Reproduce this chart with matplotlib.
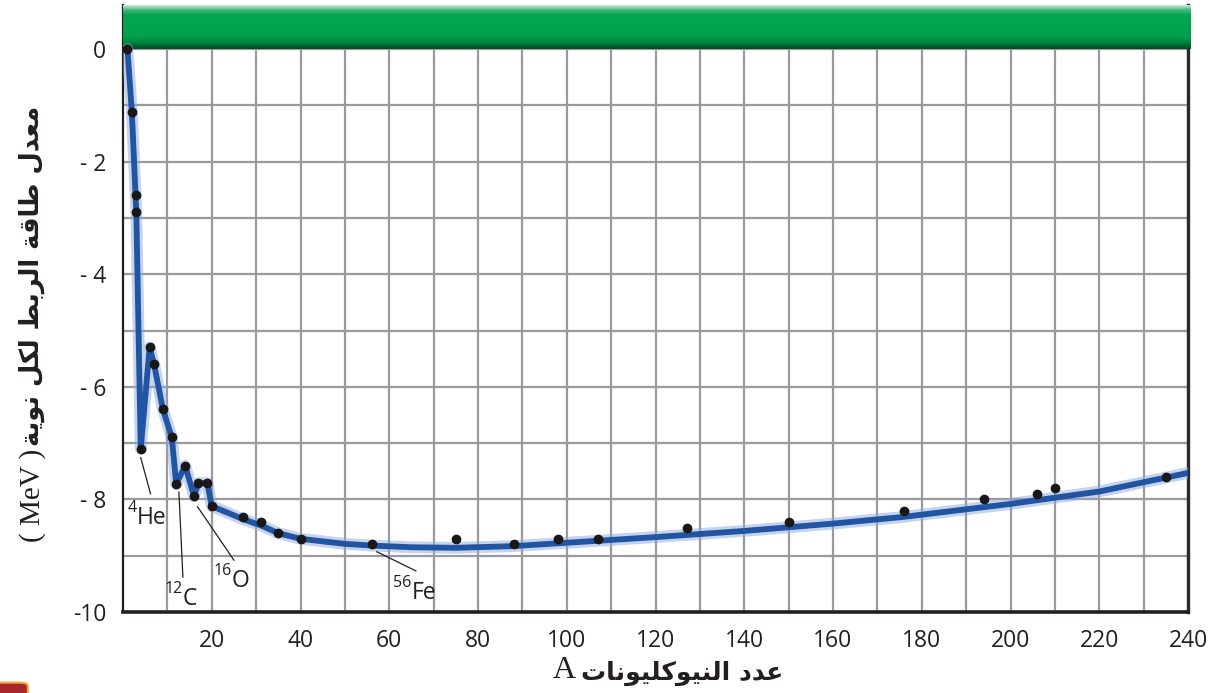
import numpy as np
import matplotlib.pyplot as plt
from matplotlib.colors import LinearSegmentedColormap
from matplotlib.patches import FancyBboxPatch

# measured nuclides: nucleon number A, average binding energy per nucleon (MeV)
A_pts = [1, 2, 3, 3, 4, 6, 7, 9, 11, 12, 14, 16, 17, 19, 20, 27, 31, 35, 40,
         56, 75, 88, 98, 107, 127, 150, 176, 194, 206, 210, 235]
E_pts = [0, -1.12, -2.6, -2.9, -7.1, -5.3, -5.6, -6.4, -6.9, -7.73, -7.4, -7.94,
         -7.71, -7.71, -8.12, -8.31, -8.4, -8.6, -8.7, -8.8, -8.7, -8.8, -8.7,
         -8.7, -8.5, -8.4, -8.2, -8.0, -7.9, -7.8, -7.6]

# trend line drawn through them
A_curve = [1, 2, 3, 4, 6, 7, 9, 11, 12, 14, 16, 17, 19, 20, 24, 27, 31, 35, 40, 50,
           56, 65, 75, 88, 100, 120, 140, 160, 176, 200, 220, 240]
E_curve = [0, -1.12, -2.9, -7.1, -5.3, -5.6, -6.4, -6.9, -7.73, -7.4, -7.94, -7.71,
           -7.71, -8.12, -8.25, -8.35, -8.46, -8.6, -8.7, -8.79, -8.82, -8.85,
           -8.86, -8.83, -8.77, -8.67, -8.56, -8.43, -8.31, -8.08, -7.86, -7.53]

# labelled nuclei: mass number, symbol, symbol anchor (left, baseline), leader line
lab_mass = ['4', '12', '16', '56']
lab_sym = ['He', 'C', 'O', 'Fe']
lab_xy = [(3.1, -8.44), (13.5, -9.88), (24.5, -9.56), (65.1, -9.77)]
lead_from = [(4.0, -7.26), (12.6, -7.87), (16.8, -8.13), (57.2, -8.93)]
lead_to = [(6.2, -7.9), (13.5, -9.38), (25.0, -9.08), (66.0, -9.27)]

xticks = list(range(20, 241, 20))
yticks = [0, -2, -4, -6, -8, -10]
ytick_labels = ['0', '- 2', '- 4', '- 6', '- 8', '-10']

xlabel_ar = 'عدد النيوكليونات'
ylabel_ar = 'معدل طاقة الربط لكل نوية'

# matplotlib has no arabic shaping -> pick presentation forms by hand
FORMS = {
    'ا': ('\uFE8D', '\uFE8E', None, None),
    'ب': ('\uFE8F', '\uFE90', '\uFE91', '\uFE92'),
    'ة': ('\uFE93', '\uFE94', None, None),
    'ت': ('\uFE95', '\uFE96', '\uFE97', '\uFE98'),
    'د': ('\uFEA9', '\uFEAA', None, None),
    'ر': ('\uFEAD', '\uFEAE', None, None),
    'ط': ('\uFEC1', '\uFEC2', '\uFEC3', '\uFEC4'),
    'ع': ('\uFEC9', '\uFECA', '\uFECB', '\uFECC'),
    'ق': ('\uFED5', '\uFED6', '\uFED7', '\uFED8'),
    'ك': ('\uFED9', '\uFEDA', '\uFEDB', '\uFEDC'),
    'ل': ('\uFEDD', '\uFEDE', '\uFEDF', '\uFEE0'),
    'م': ('\uFEE1', '\uFEE2', '\uFEE3', '\uFEE4'),
    'ن': ('\uFEE5', '\uFEE6', '\uFEE7', '\uFEE8'),
    'و': ('\uFEED', '\uFEEE', None, None),
    'ي': ('\uFEF1', '\uFEF2', '\uFEF3', '\uFEF4'),
}


def arabic(s):
    out = []
    for i, ch in enumerate(s):
        if ch not in FORMS:
            out.append(ch)
            continue
        prev = s[i - 1] if i > 0 else ''
        nxt = s[i + 1] if i + 1 < len(s) else ''
        jp = prev in FORMS and FORMS[prev][2] is not None
        jn = FORMS[ch][2] is not None and nxt in FORMS
        iso, fin, ini, med = FORMS[ch]
        if jp and jn:
            out.append(med)
        elif jp:
            out.append(fin)
        elif jn:
            out.append(ini)
        else:
            out.append(iso)
    return ''.join(reversed(out))


plt.rcParams['font.family'] = ['Open Sans', 'DejaVu Sans']

W, H = 1214, 693
fig = plt.figure(figsize=(W / 100, H / 100), dpi=100)
ax = fig.add_axes([123 / W, 1 - 612 / H, (1188 - 123) / W, (612 - 5) / H])
ytop = 44 / 56.3
ax.set_xlim(0, 240)
ax.set_ylim(-10, ytop)

# grid
ax.set_xticks(xticks)
ax.set_xticks(range(10, 240, 10), minor=True)
ax.set_yticks(yticks)
ax.set_yticklabels(ytick_labels)
ax.set_yticks(range(-9, 0), minor=True)
ax.grid(True, which='both', color='#9a9a9c', lw=1.6)
ax.set_axisbelow(True)
ax.tick_params(which='both', length=0, labelsize=16.5, colors='#231f20')
ax.tick_params(axis='x', pad=12)
ax.tick_params(axis='y', pad=12)

ax.spines['top'].set_visible(False)
ax.spines['left'].set_linewidth(1.6)
ax.spines['bottom'].set_linewidth(2.6)
ax.spines['right'].set_linewidth(2.4)
ax.spines['right'].set_color('#2b2b2d')
for s in ['left', 'bottom']:
    ax.spines[s].set_color('#231f20')

# green band on top
cmap = LinearSegmentedColormap.from_list('band', [
    (0.0, '#c9e8d2'), (0.1, '#48b97a'), (0.22, '#00a651'), (0.72, '#00a04e'),
    (0.86, '#00843f'), (1.0, '#004d25')])
ax.imshow(np.linspace(0, 1, 60).reshape(-1, 1), cmap=cmap, aspect='auto',
          extent=[0, 240.6, 0, ytop], origin='upper', zorder=3, clip_on=False)

# curve with soft halo
ax.plot(A_curve, E_curve, color='#8fa9da', lw=8.5, alpha=0.5,
        solid_joinstyle='round', solid_capstyle='round', zorder=4)
ax.plot(A_curve, E_curve, color='#2154a3', lw=4.2,
        solid_joinstyle='round', solid_capstyle='round', zorder=5)
ax.plot(A_pts, E_pts, 'o', color='#1a1718', ms=6, zorder=6, clip_on=False)

for m, sym, (tx, ty), p0, p1 in zip(lab_mass, lab_sym, lab_xy, lead_from, lead_to):
    ax.plot([p0[0], p1[0]], [p0[1], p1[1]], color='#231f20', lw=0.9, zorder=6)
    ax.text(tx, ty, sym, fontsize=16.5, ha='left', va='baseline', color='#231f20', zorder=7)
    ax.annotate(m, xy=(tx, ty), xytext=(-0.3, 8.5), textcoords='offset points',
                fontsize=11.5, ha='right', va='baseline', color='#231f20', zorder=7)

# axis titles (arabic bold sans + latin serif)
fig.text(581 / W, 1 - 673 / H, arabic(xlabel_ar), fontsize=18, fontweight='bold',
         family='DejaVu Sans', ha='left', va='center', color='#231f20')
fig.text(576 / W, 1 - 670 / H, 'A', fontsize=23, family='Liberation Serif',
         ha='right', va='center', color='#231f20')
fig.text(32 / W, 1 - 446 / H, arabic(ylabel_ar), fontsize=18.5, fontweight='bold',
         family='DejaVu Sans', rotation=90, rotation_mode='anchor',
         ha='left', va='center', color='#231f20')
fig.text(33 / W, 1 - 449 / H, '( MeV )', fontsize=21, family='Liberation Serif',
         rotation=90, rotation_mode='anchor', ha='right', va='center', color='#231f20')

# clipped page tab in the corner
fig.patches.append(FancyBboxPatch((-0.01, -0.02), 0.033, 0.035,
                                  boxstyle='round,pad=0,rounding_size=0.006',
                                  transform=fig.transFigure, fc='#a8282a',
                                  ec='#f4a63a', lw=1.5))

fig.savefig('out.png', dpi=100)
